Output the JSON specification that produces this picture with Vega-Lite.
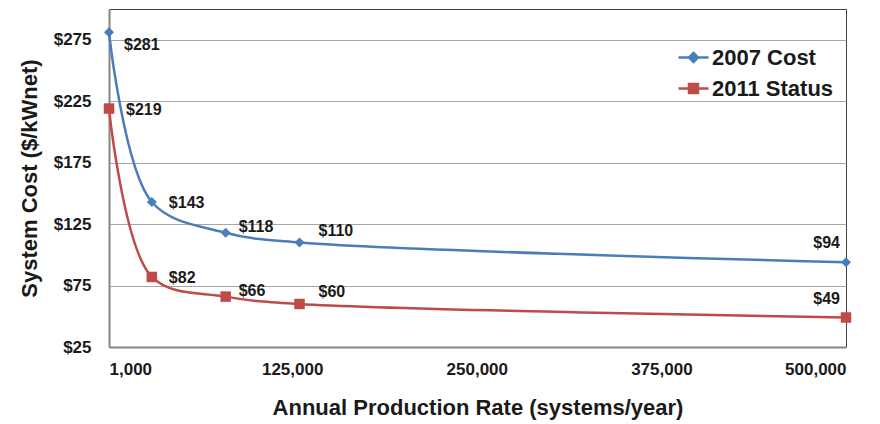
{
  "$schema": "https://vega.github.io/schema/vega-lite/v6.json",
  "width": 737,
  "height": 338,
  "autosize": "none",
  "padding": {"left": 109, "top": 9, "right": 34, "bottom": 77},
  "background": "white",
  "config": {
    "font": "Liberation Sans",
    "view": {"stroke": "#404040", "strokeWidth": 1}
  },
  "data": {
    "values": [
      {"rate": 1000, "cost": 281, "series": "2007 Cost"},
      {"rate": 30000, "cost": 143, "series": "2007 Cost"},
      {"rate": 80000, "cost": 118, "series": "2007 Cost"},
      {"rate": 130000, "cost": 110, "series": "2007 Cost"},
      {"rate": 500000, "cost": 94, "series": "2007 Cost"},
      {"rate": 1000, "cost": 219, "series": "2011 Status"},
      {"rate": 30000, "cost": 82, "series": "2011 Status"},
      {"rate": 80000, "cost": 66, "series": "2011 Status"},
      {"rate": 130000, "cost": 60, "series": "2011 Status"},
      {"rate": 500000, "cost": 49, "series": "2011 Status"}
    ]
  },
  "encoding": {
    "x": {
      "field": "rate", "type": "quantitative",
      "scale": {"domain": [1000, 500000], "nice": false, "zero": false},
      "axis": {
        "title": "Annual Production Rate (systems/year)",
        "values": [1000, 125000, 250000, 375000, 500000],
        "format": ",d",
        "grid": false, "ticks": false,
        "labelFlush": true,
        "domainColor": "#868686", "domainWidth": 2,
        "labelFont": "Liberation Sans", "labelFontSize": 17, "labelFontWeight": "bold", "labelColor": "#1a1a1a",
        "labelPadding": 14,
        "titleFont": "Liberation Sans", "titleFontSize": 22, "titleFontWeight": "bold", "titleColor": "#1a1a1a",
        "titlePadding": 20
      }
    },
    "y": {
      "field": "cost", "type": "quantitative",
      "scale": {"domain": [25, 300], "nice": false, "zero": false},
      "axis": {
        "title": "System Cost ($/kWnet)",
        "values": [25, 75, 125, 175, 225, 275],
        "format": "$.0f",
        "grid": true, "gridColor": "#a6a6a6", "gridWidth": 1,
        "ticks": false,
        "domainColor": "#868686", "domainWidth": 2,
        "labelFont": "Liberation Sans", "labelFontSize": 17, "labelFontWeight": "bold", "labelColor": "#1a1a1a",
        "labelPadding": 18,
        "titleFont": "Liberation Sans", "titleFontSize": 22, "titleFontWeight": "bold", "titleColor": "#1a1a1a",
        "titlePadding": 12
      }
    },
    "color": {
      "field": "series", "type": "nominal",
      "scale": {"domain": ["2007 Cost", "2011 Status"], "range": ["#4A7EBB", "#BE4B48"]},
      "legend": {
        "title": null,
        "orient": "none",
        "legendX": 568,
        "legendY": 32,
        "padding": 0,
        "symbolSize": 900,
        "symbolStrokeWidth": 2.5,
        "rowPadding": 3,
        "labelOffset": 2,
        "labelFont": "Liberation Sans", "labelFontSize": 22, "labelFontWeight": "bold", "labelColor": "#1a1a1a",
        "encode": {
          "symbols": {
            "update": {
              "shape": {"signal": "datum.value === '2007 Cost' ? 'M-1,0H1M0,-0.3L0.3,0L0,0.3L-0.3,0Z' : 'M-1,0H1M-0.3,-0.3H0.3V0.3H-0.3Z'"},
              "fill": {"scale": "color", "field": "value"},
              "stroke": {"scale": "color", "field": "value"},
              "strokeWidth": {"value": 2.5},
              "opacity": {"value": 1}
            }
          }
        }
      }
    }
  },
  "layer": [
    {"mark": {"type": "line", "interpolate": "catmull-rom", "strokeWidth": 2.5}},
    {
      "mark": {"type": "point", "filled": true, "opacity": 1, "size": 100, "shape": "diamond"},
      "transform": [{"filter": "datum.series === '2007 Cost'"}]
    },
    {
      "mark": {"type": "point", "filled": true, "opacity": 1, "size": 110, "shape": "square"},
      "transform": [{"filter": "datum.series === '2011 Status'"}]
    },
    {
      "transform": [{"filter": "datum.rate === 30000 || (datum.rate === 1000 && datum.series === '2011 Status')"}],
      "mark": {"type": "text", "align": "left", "baseline": "middle", "dx": 17, "dy": 1, "font": "Liberation Sans", "fontSize": 16, "fontWeight": "bold"},
      "encoding": {"text": {"field": "cost", "type": "quantitative", "format": "$.0f"}, "color": {"value": "#1a1a1a"}}
    },
    {
      "transform": [{"filter": "datum.rate === 1000 && datum.series === '2007 Cost'"}],
      "mark": {"type": "text", "align": "left", "baseline": "middle", "dx": 15, "dy": 13, "font": "Liberation Sans", "fontSize": 16, "fontWeight": "bold"},
      "encoding": {"text": {"field": "cost", "type": "quantitative", "format": "$.0f"}, "color": {"value": "#1a1a1a"}}
    },
    {
      "transform": [{"filter": "datum.rate === 80000"}],
      "mark": {"type": "text", "align": "left", "baseline": "middle", "dx": 13, "dy": -6, "font": "Liberation Sans", "fontSize": 16, "fontWeight": "bold"},
      "encoding": {"text": {"field": "cost", "type": "quantitative", "format": "$.0f"}, "color": {"value": "#1a1a1a"}}
    },
    {
      "transform": [{"filter": "datum.rate === 130000"}],
      "mark": {"type": "text", "align": "left", "baseline": "middle", "dx": 19, "dy": -12, "font": "Liberation Sans", "fontSize": 16, "fontWeight": "bold"},
      "encoding": {"text": {"field": "cost", "type": "quantitative", "format": "$.0f"}, "color": {"value": "#1a1a1a"}}
    },
    {
      "transform": [{"filter": "datum.rate === 500000"}],
      "mark": {"type": "text", "align": "right", "baseline": "middle", "dx": -6, "dy": -19, "font": "Liberation Sans", "fontSize": 16, "fontWeight": "bold"},
      "encoding": {"text": {"field": "cost", "type": "quantitative", "format": "$.0f"}, "color": {"value": "#1a1a1a"}}
    }
  ]
}
